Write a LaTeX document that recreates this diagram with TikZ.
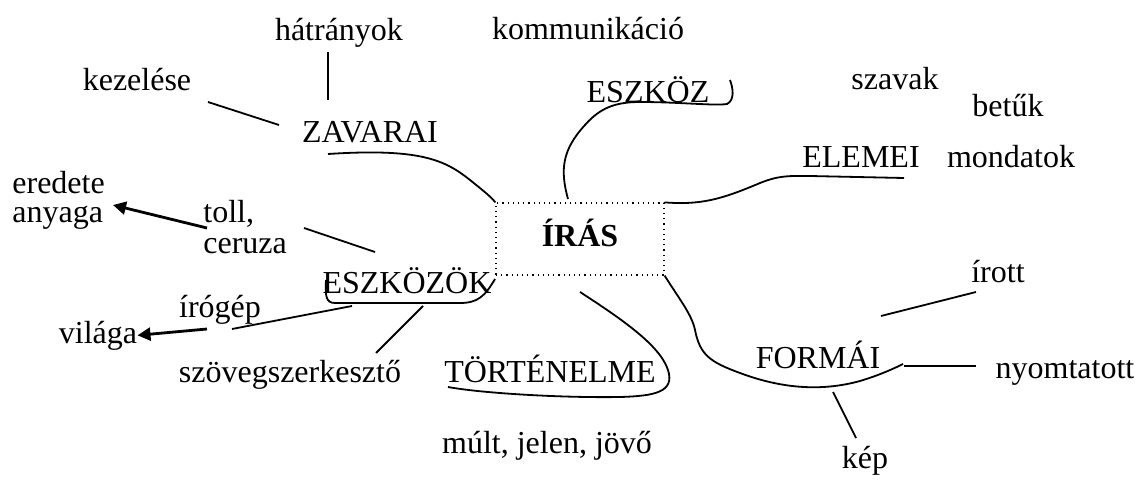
\documentclass[tikz,border=0pt]{standalone}
\usepackage{fontspec}
\setmainfont{Liberation Serif}
\usetikzlibrary{arrows.meta}

\begin{document}
\begin{tikzpicture}[
      x=0.5pt, y=-0.5pt,
      every node/.style={inner sep=0pt, font=\fontsize{16}{19}\selectfont},
      word/.style={anchor=base},
      leftword/.style={anchor=base west},
      twig/.style={line width=0.9pt},
      arrow/.style={-{Triangle[length=6.5pt, width=6.5pt]}, line width=1.4pt}
    ]
      \useasboundingbox (0,0) rectangle (1136,481);

      % centre
      \node[draw, dotted, line width=0.6pt, minimum width=84pt, minimum height=36pt,
            text height=0.7em, text depth=0pt,
            font=\fontsize{16}{19}\selectfont\bfseries] (iras) at (580,239) {ÍRÁS};

      % branches
      \node[word] (zavarai) at (370,142) {ZAVARAI};
      \node[word] (eszkoz) at (648,103) {ESZKÖZ};
      \node[word] (elemei) at (861,168) {ELEMEI};
      \node[word] (eszkozok) at (407,293) {ESZKÖZÖK};
      \node[word] (tortenelme) at (550,382) {TÖRTÉNELME};
      \node[word] (formai) at (818,368) {FORMÁI};

      % leaves
      \node[word] (hatranyok) at (339,41) {hátrányok};
      \node[word] (kezelese) at (137,91) {kezelése};
      \node[word] (kommunikacio) at (588,40) {kommunikáció};
      \node[word] (szavak) at (895,90) {szavak};
      \node[word] (betuk) at (1008,117) {betűk};
      \node[word] (mondatok) at (1011,168) {mondatok};
      \node[leftword] (eredete) at (12,193) {eredete};
      \node[leftword] (anyaga) at (12,222) {anyaga};
      \node[leftword] (toll) at (203,222) {toll,};
      \node[leftword] (ceruza) at (203,253) {ceruza};
      \node[word] (irogep) at (220,317) {írógép};
      \node[word] (vilaga) at (98,343) {világa};
      \node[word] (szoveg) at (290,382) {szövegszerkesztő};
      \node[word] (mult) at (547,453) {múlt, jelen, jövő};
      \node[word] (irott) at (998,282) {írott};
      \node[word] (nyomtatott) at (1065,378) {nyomtatott};
      \node[word] (kep) at (865,468) {kép};

      % line ends
      \coordinate (zavarai-a) at (328,154);
      \coordinate (eszkoz-a) at (568,199);
      \coordinate (eszkoz-b) at (730,80);
      \coordinate (elemei-b) at (904,178);
      \coordinate (eszkozok-a) at (495,279);
      \coordinate (eszkozok-b) at (326,280);
      \coordinate (tortenelme-a) at (580,292);
      \coordinate (tortenelme-b) at (448,387);
      \coordinate (formai-b) at (903,364);

      % curves from the centre
      \draw[twig] (zavarai-a) .. controls (420,148) and (445,160) .. (470,180)
                  .. controls (485,192) and (491,197) .. (iras.north west);
      \draw[twig] (eszkoz-a) .. controls (560,170) and (562,150) .. (585,125)
                  .. controls (600,108) and (615,102) .. (640,102)
                  .. controls (680,102) and (715,106) .. (727,104)
                  .. controls (735,100) and (733,88) .. (eszkoz-b);
      \draw[twig] (iras.north east) .. controls (700,205) and (720,200) .. (760,183)
                  .. controls (780,175) and (790,176) .. (810,176) -- (elemei-b);
      \draw[twig] (eszkozok-a) .. controls (485,296) and (478,303) .. (460,303) -- (335,303)
                  .. controls (326,303) and (325,296) .. (eszkozok-b);
      \draw[twig] (tortenelme-a) .. controls (620,318) and (660,345) .. (668,370)
                  .. controls (675,392) and (655,396) .. (620,397)
                  .. controls (560,398) and (480,393) .. (tortenelme-b);
      \draw[twig] (iras.south east) .. controls (680,300) and (692,315) .. (695,330)
                  .. controls (700,355) and (710,362) .. (740,373)
                  .. controls (780,388) and (820,392) .. (860,381)
                  .. controls (880,375) and (895,368) .. (formai-b);

      % leaf lines
      \coordinate (hatranyok-a) at (328,52);
      \coordinate (hatranyok-b) at (328,100);
      \coordinate (kezelese-a) at (208,102);
      \coordinate (kezelese-b) at (279,125);
      \coordinate (ceruza-a) at (304,228);
      \coordinate (ceruza-b) at (375,252);
      \coordinate (irogep-a) at (352,306);
      \coordinate (irogep-b) at (232,329);
      \coordinate (szoveg-a) at (423,306);
      \coordinate (szoveg-b) at (376,353);
      \coordinate (irott-a) at (976,292);
      \coordinate (irott-b) at (881,316);
      \coordinate (nyomtatott-a) at (904,366);
      \coordinate (nyomtatott-b) at (976,366);
      \coordinate (kep-a) at (833,392);
      \coordinate (kep-b) at (856,438);
      \draw[twig] (hatranyok-a) -- (hatranyok-b);
      \draw[twig] (kezelese-a) -- (kezelese-b);
      \draw[twig] (ceruza-a) -- (ceruza-b);
      \draw[twig] (irogep-a) -- (irogep-b);
      \draw[twig] (szoveg-a) -- (szoveg-b);
      \draw[twig] (irott-a) -- (irott-b);
      \draw[twig] (nyomtatott-a) -- (nyomtatott-b);
      \draw[twig] (kep-a) -- (kep-b);

      % arrows
      \coordinate (toll-a) at (207,228);
      \coordinate (eredete-b) at (113,205);
      \coordinate (vilaga-a) at (207,329);
      \draw[arrow] (toll-a) -- (eredete-b);
      \draw[arrow] (vilaga-a) -- (vilaga.east);
    \end{tikzpicture}
\end{document}
